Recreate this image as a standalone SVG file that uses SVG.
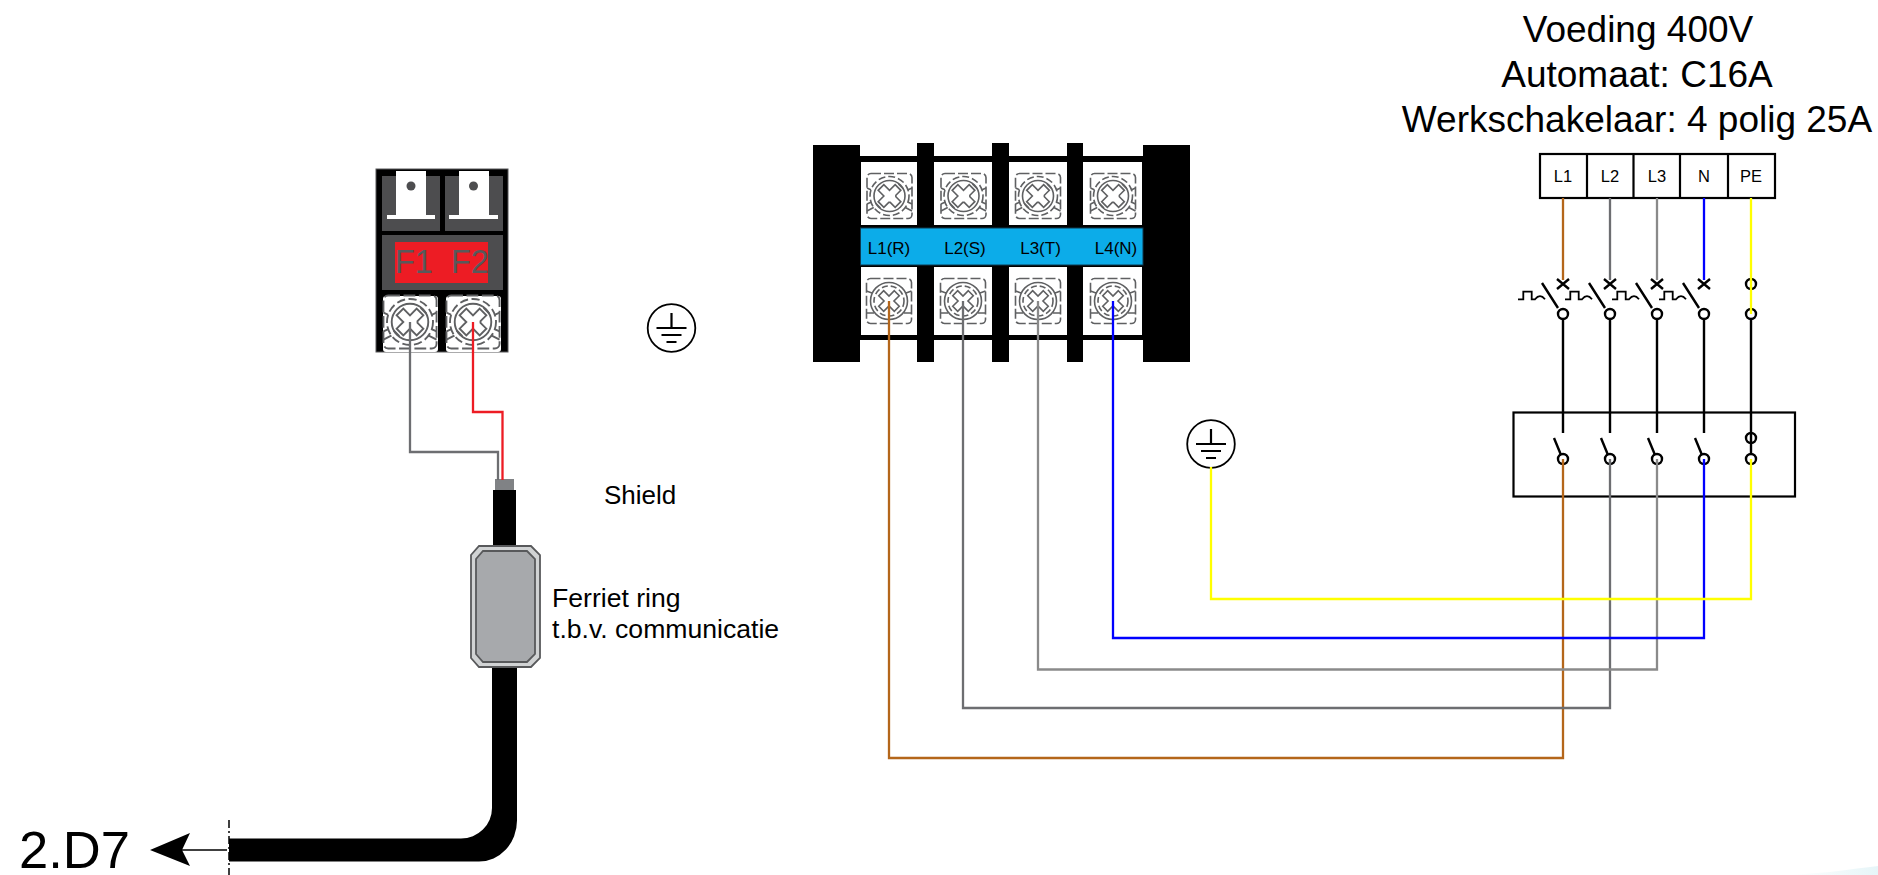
<svg xmlns="http://www.w3.org/2000/svg" width="1878" height="875" viewBox="0 0 1878 875">
<style>
text{font-family:"Liberation Sans",Arial,sans-serif;fill:#000}
.sk{fill:none;stroke:#000;stroke-width:2.2}
.sw{fill:none;stroke:#000;stroke-width:2.4}
.w{fill:none;stroke-width:2.3}
.sc{fill:none;stroke:#5f6062;stroke-width:1.6}
.c{text-anchor:middle}
</style>
<defs>
<linearGradient id="glow" x1="0" x2="1" y1="0" y2="0"><stop offset="0" stop-color="#fff"/><stop offset="1" stop-color="#e6f5f8"/></linearGradient>
<g id="screw">
<rect class="sc" x="-22.5" y="-22.5" width="45" height="45" rx="4" stroke-dasharray="10 3"/>
<path class="sc" d="M-22.500 -8 L-16 -5 M22.500 -8 L16 -5 M-22.500 8 L-16 5 M22.500 8 L16 5 M-22.500 15 L-13 10 M22.500 15 L13 10"/>
<circle style="fill:#fff" class="sc" r="19.500" stroke-dasharray="7 3"/>
<circle class="sc" r="15.500"/>
<path class="sc" transform="rotate(45)" d="M-4 -12 H4 V-5 L5 -4 H12 V4 H5 L4 5 V12 H-4 V4 H-12 V-4 H-4Z"/>
<path class="sc" d="M-14 7 L-9 12 M14 -7 L9 -12"/>
</g>
<g id="screw-b">
<rect class="sc" x="-22.5" y="-22.5" width="45" height="45" rx="4" stroke-dasharray="10 3"/>
<path class="sc" d="M-22.500 -10 L-17 -8 M22.500 -10 L17 -8 M-22.500 12 L-15 12 M22.500 12 L15 12"/>
<circle style="fill:#fff" class="sc" r="18.500"/>
<circle class="sc" r="15" stroke-dasharray="6 3"/>
<path class="sc" transform="rotate(45)" d="M-3.500 -11 H3.500 V-3.500 H11 V3.500 H3.500 V11 H-3.500 V3.500 H-11 V-3.500 H-3.500Z"/>
</g>
<g id="earth">
<circle r="23.800" fill="#fff" stroke="#000" stroke-width="1.800"/>
<path fill="none" stroke="#000" stroke-width="2.200" d="M0 -15 V0 M-15 0 H15 M-10 7 H10 M-5 14 H5"/>
</g>
<g id="breaker">
<path class="sw" d="M-6 279 L6 289 M6 279 L-6 289"/>
<circle class="sw" cy="314" r="5"/>
<path class="sw" d="M-21 283 L-5 308 M0 319 V433"/>
<path style="fill:none;stroke:#000;stroke-width:1.800" d="M-45 299.300 H-39.700 V291.700 H-31.300 V299.300 H-28 Q-23 293 -18 299.300"/>
<path class="sw" d="M-9 438 L-2 455"/>
<circle class="sw" cy="459" r="5"/>
</g>
</defs>

<path d="M1790 875 L1830 872 Q1860 868 1878 866 V875Z" fill="url(#glow)"/>

<g id="fuse-holder">
<rect x="376" y="169" width="132" height="183" fill="#000" stroke="#58595b" stroke-width="1"/>
<rect x="382" y="176" width="58" height="55" fill="#4d4d4f"/>
<rect x="445" y="176" width="58" height="55" fill="#4d4d4f"/>
<rect x="382" y="235" width="121" height="55" fill="#4d4d4f"/>
<rect x="395" y="242" width="93" height="41" fill="#ed1c24"/>
<text x="395" y="272.500" font-size="32.500" style="fill:#58595b">F1</text>
<text x="451" y="272.500" font-size="32.500" style="fill:#58595b">F2</text>
<path fill="#fff" d="M396 171 H426 V215 H435 V219 H387 V215 H396Z M459 171 H489 V215 H498 V219 H449 V215 H459Z"/>
<circle cx="411" cy="186" r="4.500" fill="#4d4d4f"/>
<circle cx="473.500" cy="186" r="4.500" fill="#4d4d4f"/>
<rect x="383" y="296" width="55" height="56" rx="3" fill="#fff"/>
<rect x="446" y="296" width="55" height="56" rx="3" fill="#fff"/>
<use href="#screw" transform="translate(410,322) scale(1.180)"/>
<use href="#screw" transform="translate(473,322) scale(1.180)"/>
</g>

<g id="terminal-block">
<rect x="813" y="145" width="47" height="217" fill="#000"/>
<rect x="1143" y="145" width="47" height="217" fill="#000"/>
<rect x="917" y="143" width="17" height="219" fill="#000"/>
<rect x="992" y="143" width="17" height="219" fill="#000"/>
<rect x="1067" y="143" width="16" height="219" fill="#000"/>
<rect x="860" y="156" width="283" height="184" fill="#000"/>
<rect x="861" y="162" width="56" height="63" fill="#fff"/>
<rect x="934" y="162" width="58" height="63" fill="#fff"/>
<rect x="1009" y="162" width="58" height="63" fill="#fff"/>
<rect x="1083" y="162" width="59" height="63" fill="#fff"/>
<rect x="861" y="267" width="56" height="68" fill="#fff"/>
<rect x="934" y="267" width="58" height="68" fill="#fff"/>
<rect x="1009" y="267" width="58" height="68" fill="#fff"/>
<rect x="1083" y="267" width="59" height="68" fill="#fff"/>
<rect x="860.500" y="228" width="282.500" height="37" fill="#0cace9" stroke="#0d3a50" stroke-width="1"/>
<text class="c" x="889" y="254" font-size="17">L1(R)</text>
<text class="c" x="965" y="254" font-size="17">L2(S)</text>
<text class="c" x="1040.500" y="254" font-size="17">L3(T)</text>
<text class="c" x="1116" y="254" font-size="17">L4(N)</text>
<use href="#screw" x="889.500" y="196"/><use href="#screw" x="963.500" y="196"/><use href="#screw" x="1038" y="196"/><use href="#screw" x="1113" y="196"/>
<use href="#screw-b" x="889" y="301"/><use href="#screw-b" x="963" y="301"/><use href="#screw-b" x="1038" y="301"/><use href="#screw-b" x="1113" y="301"/>
</g>

<g id="earth-1"><use href="#earth" x="671.500" y="328"/></g>
<g id="earth-2"><use href="#earth" x="1211" y="444"/></g>

<g id="cable">
<path d="M492 667 V808 A31 30.500 0 0 1 461 838.500 H229 V861.500 H479 A38 41 0 0 0 517 820.500 V667Z" fill="#000"/>
<rect x="493" y="490" width="23" height="56" fill="#000"/>
<rect x="495" y="479" width="19" height="11" fill="#808285"/>
<path d="M229 820 V875" stroke="#000" stroke-width="1.500" stroke-dasharray="8 3 2 3" fill="none"/>
<path d="M227 850 H182" stroke="#000" stroke-width="1.500" fill="none"/>
<path d="M150 850 L190 833 L182 850 L190 866Z" fill="#000"/>
<text x="19" y="868" font-size="52.500">2.D7</text>
</g>

<g id="ferrite-ring">
<path d="M479 546 H531 L540 555 V658 L531 667 H479 L471 658 V555Z" fill="#d1d3d4" stroke="#58595b" stroke-width="1.800"/>
<path d="M483 551 H527 L535 559 V654 L527 662 H483 L476 654 V559Z" fill="#a7a9ac" stroke="#58595b" stroke-width="1.800"/>
<text x="552" y="607" font-size="26.600">Ferriet ring</text>
<text x="552" y="638" font-size="26.600">t.b.v. communicatie</text>
</g>

<g id="shield-label"><text x="604" y="504" font-size="26">Shield</text></g>

<g id="supply-label">
<text class="c" x="1638" y="42" font-size="37">Voeding 400V</text>
<text class="c" x="1637" y="87" font-size="37">Automaat: C16A</text>
<text class="c" x="1637" y="132" font-size="37">Werkschakelaar: 4 polig 25A</text>
</g>

<g id="supply-terminals">
<rect class="sk" x="1540" y="154" width="235" height="44"/>
<path class="sk" d="M1587 154 V198 M1633.500 154 V198 M1680 154 V198 M1728 154 V198"/>
<text class="c" x="1563" y="182" font-size="16.500">L1</text>
<text class="c" x="1610" y="182" font-size="16.500">L2</text>
<text class="c" x="1657" y="182" font-size="16.500">L3</text>
<text class="c" x="1704" y="182" font-size="16.500">N</text>
<text class="c" x="1751" y="182" font-size="16.500">PE</text>
</g>

<g id="main-switch">
<rect class="sk" x="1513.500" y="412.500" width="281.500" height="84"/>
<use href="#breaker" x="1563"/><use href="#breaker" x="1610"/><use href="#breaker" x="1657"/><use href="#breaker" x="1704"/>
<circle class="sw" cx="1751" cy="284" r="5"/>
<circle class="sw" cx="1751" cy="314" r="5"/>
<path class="sw" d="M1751 319 V454"/>
<circle class="sw" cx="1751" cy="438" r="5"/>
<circle class="sw" cx="1751" cy="459" r="5"/>
</g>

<g id="connectors">
<path class="w" stroke="#b4661a" d="M889 301 V758 H1563 V459"/>
<path class="w" stroke="#6d6e71" d="M963 301 V708 H1610 V459"/>
<path class="w" stroke="#8a8a8a" d="M1038 301 V669.500 H1657 V459"/>
<path class="w" stroke="#0000ff" d="M1113 301 V638 H1704 V459"/>
<path class="w" stroke="#ffff00" d="M1211 467 V599 H1751 V459"/>
<path class="w" stroke="#b4661a" d="M1563 198 V280"/>
<path class="w" stroke="#6d6e71" d="M1610 198 V280"/>
<path class="w" stroke="#8a8a8a" d="M1657 198 V280"/>
<path class="w" stroke="#0000ff" d="M1704 198 V280"/>
<path class="w" stroke="#ffff00" d="M1751 198 V314"/>
<path class="w" stroke="#6d6e71" d="M410 322 V452 H498 V480"/>
<path class="w" stroke="#ed1c24" d="M473 322 V412 H502.500 V480"/>
</g>
</svg>
